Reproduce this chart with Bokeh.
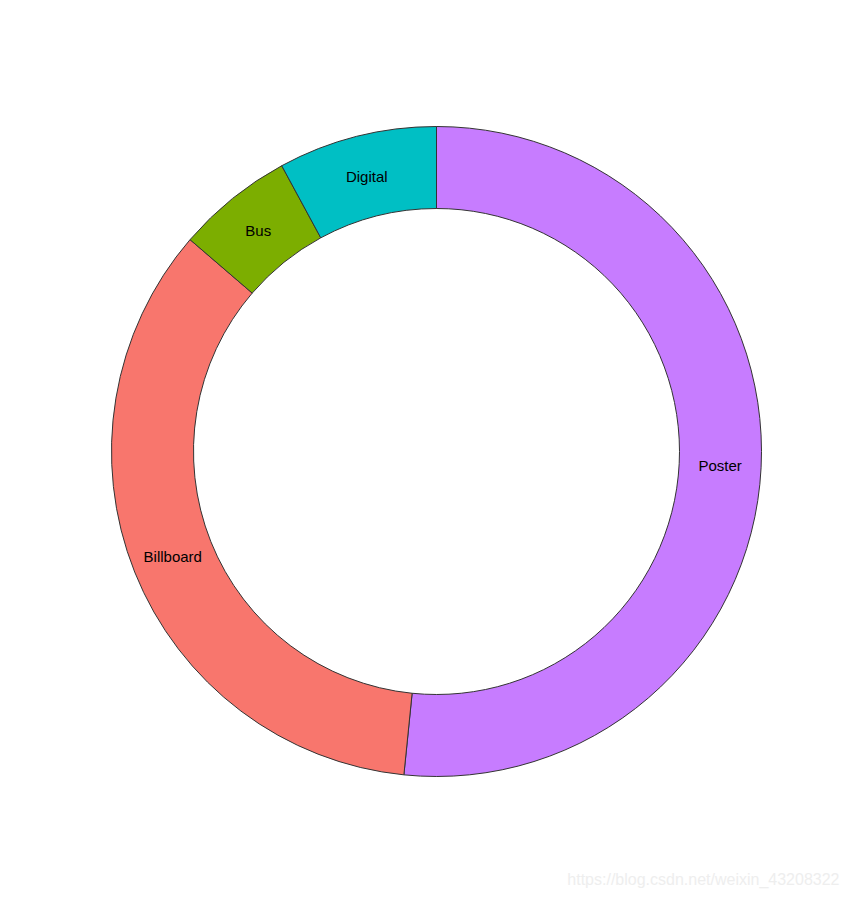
import numpy as np
from bokeh.plotting import figure
from bokeh.models import Range1d, ColumnDataSource
from bokeh.core.properties import value
from bokeh.embed import file_html
from bokeh.resources import INLINE

categories = ["Poster", "Billboard", "Bus", "Digital"]
shares = [51.6, 34.7, 5.8, 7.9]
colors = ["#C77CFF", "#F8766D", "#7CAE00", "#00BFC4"]

vals = np.array(shares, dtype=float)
frac = vals / vals.sum()
cum_end = np.cumsum(frac) * 2 * np.pi
cum_start = cum_end - frac * 2 * np.pi
# clockwise from 12 o'clock -> bokeh angles (counter-clockwise from +x)
start = np.pi / 2 - cum_end
end = np.pi / 2 - cum_start
mid = (cum_start + cum_end) / 2

R_OUT = 325
R_IN = 243
R_LAB = (R_OUT + R_IN) / 2

src = ColumnDataSource(dict(
    cat=categories, start=start, end=end, color=colors,
    lx=R_LAB * np.sin(mid), ly=R_LAB * np.cos(mid),
))

p = figure(width=842, height=892, output_backend="svg", toolbar_location=None,
           x_range=Range1d(-436, 406), y_range=Range1d(-441, 451),
           min_border=0)
p.axis.visible = False
p.grid.visible = False
p.outline_line_color = None
p.background_fill_color = "white"

p.annular_wedge(x=0, y=0, inner_radius=R_IN, outer_radius=R_OUT,
                start_angle="start", end_angle="end", direction="anticlock",
                fill_color="color", line_color="#333333", line_width=1,
                source=src)

p.text(x="lx", y="ly", text="cat", source=src,
       text_font=value("Liberation Sans"), text_font_size="15px",
       text_align="center", text_baseline="middle", text_color="black")

p.text(x=[403], y=[-428], text=["https://blog.csdn.net/weixin_43208322"],
       text_font=value("Liberation Sans"), text_font_size="16px",
       text_align="right", text_baseline="alphabetic", text_color="#eeeeee")

open("out.html", "w").write(file_html(p, INLINE))
